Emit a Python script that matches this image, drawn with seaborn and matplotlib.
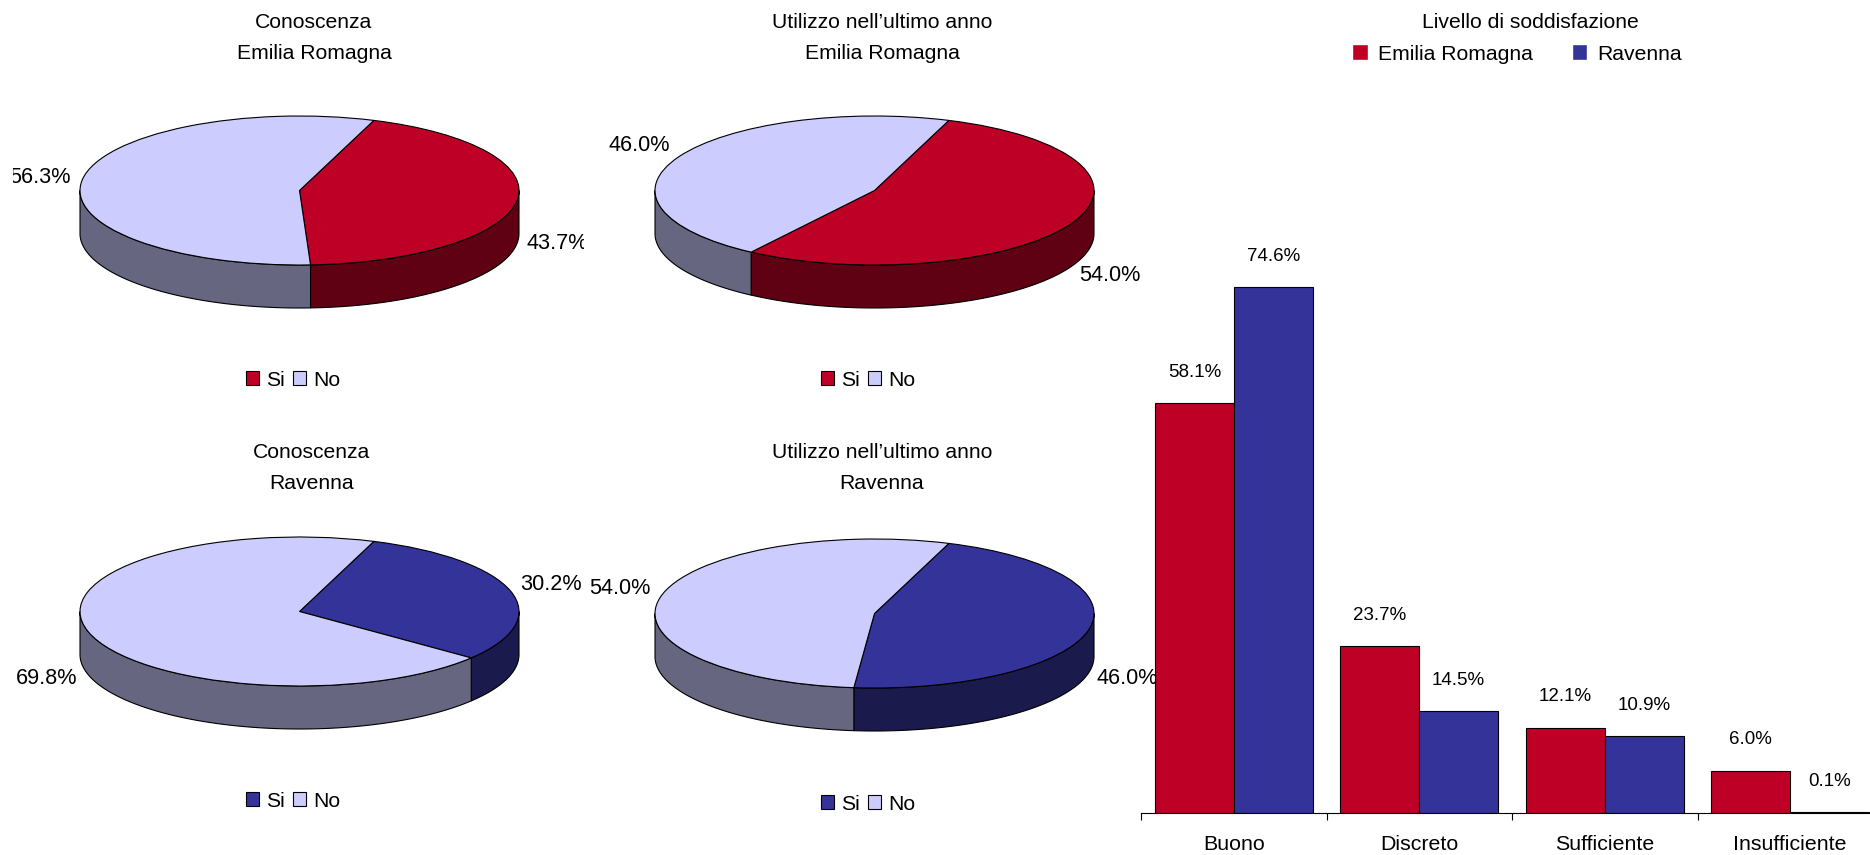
import numpy as np
import pandas as pd
import matplotlib.pyplot as plt
from matplotlib.patches import Patch
import seaborn as sns

# Dati
pie_titles = ['Conoscenza\nEmilia Romagna', 'Utilizzo nell\u2019ultimo anno\nEmilia Romagna',
              'Conoscenza\nRavenna', 'Utilizzo nell\u2019ultimo anno\nRavenna']
pie_si = [43.7, 54.0, 30.2, 46.0]
pie_no = [56.3, 46.0, 69.8, 54.0]
pie_labels = ['Si', 'No']

levels = ['Buono', 'Discreto', 'Sufficiente', 'Insufficiente']
emilia = [58.1, 23.7, 12.1, 6.0]
ravenna = [74.6, 14.5, 10.9, 0.1]
bar_names = ['Emilia Romagna', 'Ravenna']

RED, RED_DARK = '#BE0027', '#5F0013'
BLUE, BLUE_DARK = '#333399', '#1A1A4D'
LIGHT, LIGHT_DARK = '#CCCCFF', '#666680'

W, H = 1870, 855

sns.set_theme(style='white')
plt.rcParams['font.family'] = ['Liberation Sans', 'DejaVu Sans']
plt.rcParams['text.color'] = 'black'

fig = plt.figure(figsize=(W / 100, H / 100), dpi=100, facecolor='white')


def px_axes(left, top, right, bottom):
    return fig.add_axes([left / W, 1 - bottom / H, (right - left) / W, (bottom - top) / H])


def fig_xy(x, y):
    return x / W, 1 - y / H


# Posizioni in pixel di ogni torta
layouts = [
    {'frame': (13, 60, 584, 420), 'cx': 299.5, 'cy': 190.5, 'title': (314, 38), 'legend': (293, 380),
     'no_xy': (40, 177.5), 'si_xy': (557, 243.5), 'colors': (RED, RED_DARK)},
    {'frame': (580, 60, 1160, 420), 'cx': 874.5, 'cy': 190.5, 'title': (882, 38), 'legend': (868, 380),
     'no_xy': (639, 145.5), 'si_xy': (1110, 275.5), 'colors': (RED, RED_DARK)},
    {'frame': (13, 480, 584, 840), 'cx': 299.5, 'cy': 611.5, 'title': (312, 467.5), 'legend': (293, 801),
     'no_xy': (47, 678.5), 'si_xy': (551, 584.5), 'colors': (BLUE, BLUE_DARK)},
    {'frame': (580, 480, 1160, 840), 'cx': 874.5, 'cy': 613.5, 'title': (882, 467.5), 'legend': (868, 804),
     'no_xy': (620, 588.5), 'si_xy': (1127, 678.5), 'colors': (BLUE, BLUE_DARK)},
]

RX, RY, DEPTH = 219.5, 74.5, 43
START = 70.2


def pie_3d(layout, title, si, no):
    left, top, right, bottom = layout['frame']
    cx, cy = layout['cx'], layout['cy']
    ax = px_axes(left, top, right, bottom)
    main, dark = layout['colors']

    ax.pie([si, no], colors=[main, LIGHT], startangle=START, counterclock=False,
           wedgeprops={'edgecolor': 'black', 'linewidth': 0.8, 'zorder': 3})
    ax.set_aspect('auto')
    ax.set_xlim((left - cx) / RX, (right - cx) / RX)
    ax.set_ylim((cy - bottom) / RY, (cy - top) / RY)

    # Lato del cilindro: solo la parte anteriore di ogni fetta
    depth = DEPTH / RY
    end_si = START - si * 3.6
    end_no = end_si - no * 3.6
    for a, b, col in [(START, end_si, dark), (end_si, end_no, LIGHT_DARK)]:
        hi = min(a, 0)
        lo = max(b, -180)
        if hi <= lo:
            continue
        t = np.radians(np.linspace(hi, lo, 120))
        xs = np.r_[np.cos(t), np.cos(t)[::-1]]
        ys = np.r_[np.sin(t), np.sin(t)[::-1] - depth]
        ax.fill(xs, ys, facecolor=col, edgecolor='black', linewidth=0.8, zorder=2)

    # Etichette percentuali, tagliate dal riquadro del grafico
    for val, (x, y) in [(si, layout['si_xy']), (no, layout['no_xy'])]:
        ax.text((x - cx) / RX, (cy - y) / RY, f'{val:.1f}%', ha='center', va='center',
                fontsize=15.6, color='black', clip_on=True, zorder=5)

    fig.text(*fig_xy(*layout['title']), title, ha='center', va='center', fontsize=15.2,
             linespacing=1.8, color='black')
    fig.legend(handles=[Patch(facecolor=main, edgecolor='black', linewidth=0.8, label=pie_labels[0]),
                        Patch(facecolor=LIGHT, edgecolor='black', linewidth=0.8, label=pie_labels[1])],
               loc='center', bbox_to_anchor=fig_xy(*layout['legend']), ncol=2, frameon=False,
               fontsize=15.2, handlelength=0.62, handleheight=0.62, handletextpad=0.35,
               columnspacing=0.35, borderpad=0, labelspacing=0)


for lay, tit, s, n in zip(layouts, pie_titles, pie_si, pie_no):
    pie_3d(lay, tit, s, n)

# Grafico a barre
df = pd.DataFrame({
    'Livello': levels * 2,
    'Valore': emilia + ravenna,
    'Area': [bar_names[0]] * len(levels) + [bar_names[1]] * len(levels),
})

ax = px_axes(1141, 249, 1883, 813)
ax.patch.set_alpha(0)
sns.barplot(data=df, x='Livello', y='Valore', hue='Area', palette=[RED, BLUE], width=0.85, gap=0,
            edgecolor='black', linewidth=0.8, ax=ax, legend=False, errorbar=None, saturation=1)
ax.set_xlim(-0.5, 3.5)
ax.set_ylim(0, 80)
ax.set_xlabel('')
ax.set_ylabel('')
ax.set_yticks([])
sns.despine(ax=ax, left=True)
ax.spines['bottom'].set_color('black')
ax.spines['bottom'].set_linewidth(0.8)

ax.set_xticks(range(len(levels)))
ax.set_xticklabels(levels, fontsize=15.4, color='black')
ax.tick_params(axis='x', which='major', length=0, pad=16)
ax.set_xticks(np.arange(-0.5, 4.0, 1), minor=True)
ax.tick_params(axis='x', which='minor', bottom=True, length=5, width=0.8, color='black')

for container in ax.containers:
    ax.bar_label(container, fmt='%.1f%%', padding=16, fontsize=13.5, color='black')

fig.text(*fig_xy(1530, 22.5), 'Livello di soddisfazione', ha='center', va='center', fontsize=15.2,
         color='black')
fig.legend(handles=[Patch(facecolor=RED, label=bar_names[0]), Patch(facecolor=BLUE, label=bar_names[1])],
           loc='center', bbox_to_anchor=fig_xy(1517, 54), ncol=2, frameon=False, fontsize=15.2,
           handlelength=0.75, handleheight=0.8, handletextpad=0.45, columnspacing=1.85,
           borderpad=0)

fig.savefig('out.png', dpi=100, facecolor='white')
